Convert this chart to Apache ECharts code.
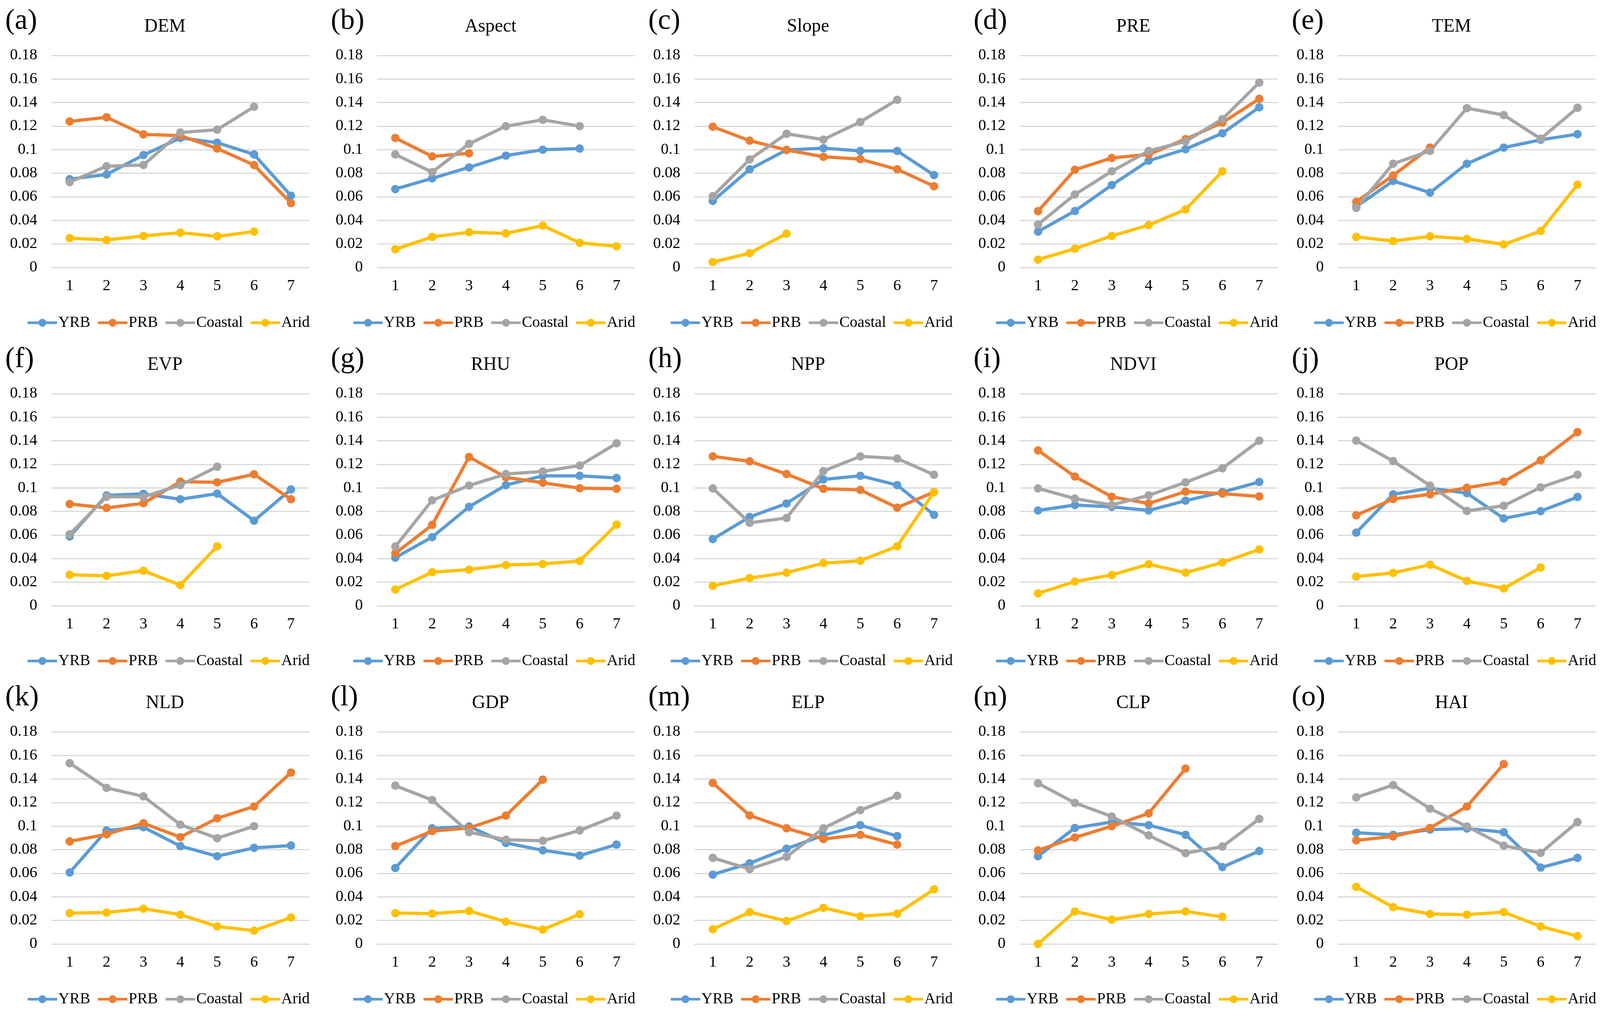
<!DOCTYPE html>
<html><head><meta charset="utf-8">
<script src="https://cdn.jsdelivr.net/npm/echarts@6/dist/echarts.min.js"></script>
<style>html,body{margin:0;padding:0;background:#fff;overflow:hidden}#c{width:100vw;height:100vh}</style>
</head><body><div id="c"></div><script>
const categories = ['1','2','3','4','5','6','7'];
const seriesNames = ['YRB','PRB','Coastal','Arid'];
const seriesColors = ['#5B9BD5','#ED7D31','#A5A5A5','#FFC000'];
const panelLabels = ['(a)','(b)','(c)','(d)','(e)','(f)','(g)','(h)','(i)','(j)','(k)','(l)','(m)','(n)','(o)'];
const panelTitles = ['DEM','Aspect','Slope','PRE','TEM','EVP','RHU','NPP','NDVI','POP','NLD','GDP','ELP','CLP','HAI'];
const yMin = 0, yMax = 0.18, yStep = 0.02;

const yrb = [
  [0.075,0.079,0.0955,0.110,0.106,0.096,0.061],
  [0.0666,0.0757,0.085,0.095,0.100,0.101,null],
  [0.0565,0.0834,0.0998,0.1013,0.099,0.099,0.0785],
  [0.0305,0.048,0.070,0.0907,0.1004,0.114,0.136],
  [0.0517,0.0735,0.0636,0.0881,0.1018,0.1084,0.1132],
  [0.0588,0.0937,0.095,0.0904,0.0952,0.0722,0.0987],
  [0.0408,0.0583,0.084,0.1024,0.1103,0.1103,0.1085],
  [0.0566,0.0754,0.0868,0.1072,0.1103,0.1024,0.0772],
  [0.0809,0.0855,0.084,0.0809,0.0892,0.0965,0.1051],
  [0.0621,0.0946,0.0998,0.0956,0.0741,0.0803,0.0923],
  [0.0607,0.0964,0.0991,0.0831,0.0745,0.0816,0.0836],
  [0.0645,0.0982,0.0998,0.0858,0.0795,0.075,0.0844],
  [0.0589,0.0685,0.0809,0.0922,0.1009,0.0916,null],
  [0.0745,0.0985,0.1036,0.1009,0.0927,0.0653,0.0789],
  [0.0944,0.0927,0.0971,0.098,0.0949,0.0649,0.0731]
];
const prb = [
  [0.124,0.1275,0.113,0.112,0.101,0.087,0.0547],
  [0.110,0.0943,0.097,null,null,null,null],
  [0.1195,0.1077,0.0998,0.094,0.092,0.0834,0.069],
  [0.0478,0.083,0.093,0.096,0.109,0.123,0.1432],
  [0.0558,0.0782,0.1018,null,null,null,null],
  [0.0864,0.0831,0.087,0.1053,0.1048,0.1116,0.0904],
  [0.0445,0.0686,0.1263,0.109,0.1044,0.0998,0.0993],
  [0.1268,0.1226,0.1118,0.0993,0.0983,0.0833,0.0965],
  [0.1319,0.1097,0.0925,0.0868,0.0969,0.0952,0.0928],
  [0.0768,0.0906,0.0946,0.1002,0.1053,0.1235,0.1474],
  [0.0871,0.0931,0.1025,0.0907,0.1067,0.1167,0.1455],
  [0.0831,0.0958,0.0985,0.109,0.1395,null,null],
  [0.1367,0.1091,0.0982,0.0891,0.0927,0.0844,null],
  [0.0795,0.0904,0.100,0.1109,0.1489,null,null],
  [0.088,0.0913,0.0985,0.1167,0.1527,null,null]
];
const coastal = [
  [0.0725,0.086,0.087,0.1146,0.117,0.1365,null],
  [0.096,0.081,0.105,0.120,0.1254,0.120,null],
  [0.0606,0.0918,0.1135,0.1086,0.1236,0.1424,null],
  [0.0365,0.062,0.0817,0.099,0.107,0.126,0.157],
  [0.0506,0.0881,0.099,0.1353,0.1294,0.1093,0.1356],
  [0.0607,0.0925,0.0925,0.1024,0.118,null,null],
  [0.0502,0.0895,0.102,0.1118,0.114,0.119,0.1379],
  [0.0996,0.0704,0.0745,0.1143,0.1268,0.125,0.1112],
  [0.0996,0.091,0.0855,0.0937,0.1048,0.1167,0.1401],
  [0.1402,0.1228,0.102,0.0805,0.0849,0.1005,0.1112],
  [0.1535,0.1325,0.1253,0.1013,0.0898,0.100,null],
  [0.1344,0.1222,0.0949,0.0885,0.0876,0.0964,0.1089],
  [0.0731,0.0636,0.074,0.0982,0.1136,0.1258,null],
  [0.1364,0.1198,0.1082,0.0922,0.0771,0.0827,0.1062],
  [0.1244,0.1349,0.1149,0.0998,0.0835,0.0773,0.1036]
];
const arid = [
  [0.025,0.0234,0.0268,0.0296,0.0265,0.0305,null],
  [0.0155,0.026,0.030,0.029,0.0356,0.021,0.018],
  [0.0046,0.0122,0.0288,null,null,null,null],
  [0.0067,0.016,0.0268,0.036,0.0493,0.0817,null],
  [0.026,0.0225,0.0265,0.0243,0.0196,0.031,0.0704],
  [0.0263,0.0254,0.0298,0.0175,0.0505,null,null],
  [0.0138,0.0285,0.0307,0.0346,0.0355,0.038,0.0689],
  [0.0169,0.0235,0.0281,0.0362,0.0382,0.0505,0.0965],
  [0.0105,0.0206,0.0261,0.0353,0.0281,0.0368,0.0478],
  [0.0248,0.0279,0.0349,0.0211,0.0147,0.0325,null],
  [0.0262,0.0267,0.030,0.0249,0.0149,0.0113,0.0225],
  [0.0262,0.0258,0.028,0.0189,0.0122,0.0253,null],
  [0.0125,0.0271,0.0195,0.0307,0.0235,0.0258,0.0464],
  [0.000,0.0276,0.0207,0.0255,0.0276,0.0231,null],
  [0.0485,0.0313,0.0255,0.0249,0.0271,0.0149,0.0067]
];
const allSeries = [yrb, prb, coastal, arid];

const FONT = "'Liberation Serif','Times New Roman',serif";
// layout designed for a 4339 x 2586 canvas, scaled to the actual viewport
const W = window.innerWidth || 4339, H = window.innerHeight || 2586;
const sx = W / 4339, sy = H / 2586, sf = (sx + sy) / 2;
const colLeft = [139, 1022, 1883, 2765, 3628];
const rowTop = [142, 1008, 1874];
const plotW = 700, plotH = 543;

const grids = [], xAxes = [], yAxes = [], series = [], titles = [], legends = [], graphics = [];
for (let p = 0; p < 15; p++) {
  const r = Math.floor(p / 5), c = p % 5;
  const L = colLeft[c], T = rowTop[r];
  grids.push({ left: L * sx, top: T * sy, width: plotW * sx, height: plotH * sy });
  xAxes.push({
    type: 'category', gridIndex: p, data: categories, boundaryGap: true,
    axisLine: { show: false }, axisTick: { show: false },
    axisLabel: { fontFamily: FONT, fontSize: 41 * sf, color: '#000', margin: 28 * sy }
  });
  yAxes.push({
    type: 'value', gridIndex: p, min: yMin, max: yMax, interval: yStep,
    axisLine: { show: false }, axisTick: { show: false },
    axisLabel: { fontFamily: FONT, fontSize: 41 * sf, color: '#000', margin: 38 * sx },
    splitLine: { show: true, lineStyle: { color: '#d9d9d9', width: 3 } }
  });
  titles.push({
    text: panelTitles[p], left: (L + 303) * sx, top: (T - 75) * sy - 28 * sf, textAlign: 'center',
    textStyle: { fontFamily: FONT, fontSize: 49 * sf, fontWeight: 'normal', color: '#000' }
  });
  graphics.push({
    type: 'text', x: (L - 125) * sx, y: (T - 87) * sy,
    style: { text: panelLabels[p], font: (76 * sf).toFixed(1) + "px 'Liberation Serif','Times New Roman',serif", fill: '#000', textAlign: 'left', textVerticalAlign: 'middle' }
  });
  legends.push({
    data: seriesNames, left: (L - 73) * sx, top: (T + 673) * sy - 14 * sf, itemWidth: 80 * sx, itemHeight: 26 * sf, itemGap: 17 * sx,
    lineStyle: { width: 7 * sf },
    textStyle: { fontFamily: FONT, fontSize: 41 * sf, color: '#000', padding: [0, 0, 0, -2] },
    selectedMode: false
  });
  for (let s = 0; s < 4; s++) {
    series.push({
      type: 'line', name: seriesNames[s], xAxisIndex: p, yAxisIndex: p,
      data: allSeries[s][p], symbol: 'circle', symbolSize: 22 * sf, showSymbol: true,
      connectNulls: false,
      lineStyle: { color: seriesColors[s], width: 8.5 * sf },
      itemStyle: { color: seriesColors[s] },
      emphasis: { disabled: true }
    });
  }
}

const chart = echarts.init(document.getElementById('c'));
chart.setOption({
  animation: false,
  backgroundColor: '#fff',
  color: seriesColors,
  title: titles,
  legend: legends,
  grid: grids,
  xAxis: xAxes,
  yAxis: yAxes,
  series: series,
  graphic: graphics
});
</script></body></html>
